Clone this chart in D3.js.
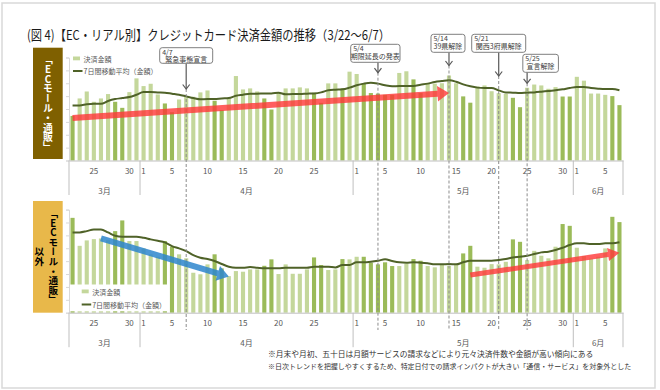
<!DOCTYPE html>
<html><head><meta charset="utf-8">
<script src="https://cdn.jsdelivr.net/npm/d3@7"></script>
<style>
body{margin:0;background:#fff}
svg{display:block}
text{font-family:"Noto Sans CJK JP","Noto Sans",sans-serif}
</style>
</head><body>
<svg id="c" width="660" height="390"></svg>
<script>
// ---------------- DATA ----------------
const title = "(図 4)【EC・リアル別】クレジットカード決済金額の推移（3/22～6/7）";
const categories = d3.timeDay.range(new Date(2020,2,22), new Date(2020,5,8)).map(d => (d.getMonth()+1)+"/"+d.getDate());
const darkDays = ["3/22","3/28","3/29","4/4","4/5","4/11","4/12","4/18","4/19","4/25","4/26","4/29",
  "5/2","5/3","5/4","5/5","5/6","5/9","5/10","5/16","5/17","5/23","5/24","5/30","5/31","6/6","6/7"];
const ecValues = [34.6,48.2,53.6,45.6,48.2,51.6,45.6,40.9,53.1,63.8,57.8,59.6,51.3,44.3,37.5,47.4,49.5,49.5,52.9,54.4,
  46.4,39.1,48.2,65.6,55.2,56,53.6,48.2,39.6,52.6,56,56,56.8,56,52.6,44.8,59.9,59.9,56,
  69,67.2,60,52.4,52,51,51,68,69.3,63,52.4,59.7,59.7,60,66,60,49.8,44.9,57.5,58.3,53.8,52.3,51.8,48.7,41.4,
  56.5,59,58.3,55.7,57,49.7,49.7,65,62,52,52,51,50,43];
const ecMA = [42.8,42.8,43.6,44,44,46.2,47.7,48.5,49.3,51.1,53.2,53.2,52.9,52.7,51.9,51.1,49.8,48.5,47.5,47.7,
  47.7,48.2,48.5,50.3,51.1,51.9,51.9,52.1,52.1,52.7,51.4,51.6,51.6,51.9,52.1,52.9,54.5,55,55.3,
  56.6,58.4,59.7,60.4,59.7,58.4,57.6,57.8,57.8,57.8,58.8,59.7,61,61.7,62.3,61.2,59.1,57.6,56.6,56.3,56.3,
  54.5,52.9,52.7,52.4,52.7,52.9,53.4,54,54.5,55.3,56.3,57.1,57.1,56.3,55.8,55.5,55.5,54.5];
const realValues = [73.6,51.9,56.1,57.1,57.6,56.3,63.3,71.6,55.6,55.6,49.9,45.3,43.4,55.6,51.2,45.3,42.2,31,29.8,37.5,
  45.3,34.4,28.4,32.3,31.8,33.6,33.6,36.4,41.4,30,37.5,30.2,30.2,33.6,42.9,37,33.1,33.6,41.6,
  41.4,43.4,43.4,38.8,37.5,39.1,36.2,36.2,38,41.6,40.3,36.2,35.2,37.5,36.4,37,46,51.9,35.7,34.9,37.7,
  37.5,39.5,56.9,55,40.8,48,44.2,42.2,51.2,68.8,67.4,50.4,44,42,43.4,49.9,74.4,70.3];
const realMA = [62.3,62.3,63.3,64.6,64.6,62.3,59.7,58.9,58.9,58.9,58.1,56.9,55.8,54.6,51.7,49.9,47.8,44.7,42.6,41.6,
  40.1,37.8,35.7,34.9,34.9,35.4,34.9,34.4,34.4,34.4,34.9,34.9,34.9,34.9,35.7,35.7,35.7,35.1,37,
  37,39.1,39.1,39.5,40.3,41.4,40.1,39.1,38.8,39.1,38.8,38.3,37.5,37.5,37.7,37.5,39.1,40.3,40.3,40.3,40.3,
  40.9,41.6,42.9,43.4,44.2,45.5,46.8,47.3,48.6,50.4,52.5,53.8,53.8,53.3,53.3,53.8,53.8,54.6];
const tickDays = ["3/25","3/30","4/1","4/5","4/10","4/15","4/20","4/25","5/1","5/5","5/10","5/15","5/20","5/25","5/30","6/1","6/5"];
const months = [["3月","3/22","3/31"],["4月","4/1","4/30"],["5月","5/1","5/31"],["6月","6/1","6/7"]];
const events = [["4/7","緊急事態宣言"],["5/4","期限延長の発表"],["5/14","39県解除"],["5/21","関西3府県解除"],["5/25","宣言解除"]];
const seriesNames = ["決済金額","7日間移動平均（金額）"];
const panelLabels = ["「ECモール・通販」","「ECモール・通販」","以外"];
const trendArrows = [ // [panel, fromDay, fromValue, toDay, toValue]
  ["ec","3/22",33,"5/14",52.4],
  ["real","3/26",57.7,"4/13",28],
  ["real","5/17",29.2,"6/7",46.5]];
const notes = ["※月末や月初、五十日は月額サービスの請求などにより元々決済件数や金額が高い傾向にある",
  "※日次トレンドを把握しやすくするため、特定日付での請求インパクトが大きい「通信・サービス」を対象外とした"];

// ---------------- LAYOUT ----------------
const svg = d3.select("#c");
const C = {light:"#c4d79b", dark:"#9bbb59", ma:"#4f6228", axis:"#bfbfbf", txt:"#595959"};
const x = d3.scaleBand().domain(categories).range([69,623]).paddingInner(0.42).paddingOuter(0.21);
const xc = d => x(d) + x.bandwidth()/2;
const gap = (x.step()-x.bandwidth())/2;
const yEc = d3.scaleLinear().domain([0,80]).range([160.5,57.5]);
const yRe = d3.scaleLinear().domain([0,80]).range([312.7,209.6]);

function fit(t, w){ const fs=+t.attr("font-size"); const len=t.node().getComputedTextLength(); t.attr("font-size",fs*w/len); return t; }

svg.append("rect").attr("x",2).attr("y",3).attr("width",653).attr("height",385)
  .attr("fill","#fff").attr("stroke","#d9d9d9").attr("stroke-width",1.5);

svg.append("text").attr("x",27).attr("y",40).attr("font-size",13.5).attr("fill","#1a1a1a")
  .attr("textLength",363).attr("lengthAdjust","spacingAndGlyphs").text(title);

function panel(vals, y) {
  const g = svg.append("g");
  const ya = g.append("g").attr("transform","translate(69,0)")
    .call(d3.axisLeft(y).ticks(8).tickSize(3).tickFormat(""));
  ya.selectAll("line,path").attr("stroke","#d9d9d9");
  g.selectAll("rect.b").data(categories).enter().append("rect")
    .attr("x",d=>x(d)).attr("width",x.bandwidth())
    .attr("y",(d,i)=>y(vals[i])).attr("height",(d,i)=>y(0)-y(vals[i]))
    .attr("fill",d=>darkDays.includes(d)?C.dark:C.light);
  const xa = g.append("g").attr("transform",`translate(0,${y(0)})`)
    .call(d3.axisBottom(x).tickValues(tickDays).tickSize(0).tickPadding(8).tickFormat(d=>d.split("/")[1]));
  xa.select("path").attr("stroke",C.axis);
  xa.selectAll("text").attr("font-size",8).attr("fill",C.txt).attr("font-family",'"Noto Sans","Noto Sans CJK JP",sans-serif');
  months.forEach(([lab,a,b],k)=>{
    const x0 = x(a)-gap, x1 = x(b)+x.bandwidth()+gap;
    g.append("line").attr("x1",x0).attr("x2",x0).attr("y1",y(0)).attr("y2",y(0)+34.5).attr("stroke","#bfbfbf");
    if(k===months.length-1) g.append("line").attr("x1",x1).attr("x2",x1).attr("y1",y(0)).attr("y2",y(0)+34.5).attr("stroke","#bfbfbf");
    g.append("text").attr("x",(x0+x1)/2).attr("y",y(0)+33.5).attr("text-anchor","middle")
      .attr("font-size",8).attr("fill",C.txt).text(lab);
  });
  return g;
}
panel(ecValues, yEc);
panel(realValues, yRe);

svg.append("rect").attr("x",70).attr("y",284.5).attr("width",97).attr("height",26.8).attr("fill","#fff");

const lineGen = y => d3.line().x((d,i)=>xc(categories[i])).y(d=>y(d)).curve(d3.curveMonotoneX);
svg.append("path").datum(ecMA).attr("d",lineGen(yEc)).attr("fill","none").attr("stroke",C.ma).attr("stroke-width",2);
svg.append("path").datum(realMA).attr("d",lineGen(yRe)).attr("fill","none").attr("stroke",C.ma).attr("stroke-width",2);

function legend(lx, ly, dy){
  svg.append("rect").attr("x",lx).attr("y",ly-3.5).attr("width",7).attr("height",3.8).attr("fill",C.light);
  svg.append("text").attr("x",lx+10.5).attr("y",ly+1.5).attr("font-size",7).attr("fill",C.txt).text(seriesNames[0]);
  svg.append("line").attr("x1",lx).attr("x2",lx+9.5).attr("y1",ly+dy-1.5).attr("y2",ly+dy-1.5).attr("stroke",C.ma).attr("stroke-width",2);
  svg.append("text").attr("x",lx+10.5).attr("y",ly+dy+1.5).attr("font-size",7).attr("fill",C.txt).text(seriesNames[1]);
}
legend(73,60,12.5);
legend(81.7,293,13);

svg.append("rect").attr("x",33).attr("y",47.7).attr("width",29.7).attr("height",111.3).attr("fill","#7f6000");
svg.append("rect").attr("x",33).attr("y",201).attr("width",29.7).attr("height",111.7).attr("fill","#e8b84a");
function vtext(tx, ty, s, fill, fs){
  svg.append("text").attr("x",tx).attr("y",ty).attr("text-anchor","middle")
    .attr("font-size",fs).attr("font-weight","bold").attr("fill",fill)
    .style("writing-mode","vertical-rl").style("text-orientation","upright").text(s);
}
vtext(48,103.3,panelLabels[0],"#fff",9.8);
vtext(53.3,256.5,panelLabels[1],"#000",9.6);
vtext(39.3,256.5,panelLabels[2],"#000",9.6);

const evLayout = {"4/7":[0,47.7,53,15.6,89],"5/4":[-2.6,44.3,49.3,18,72.7],"5/14":[-1,34.3,34,18,65.5],
  "5/21":[0,34.3,54,18,76],"5/25":[13.5,54.3,35.6,18,83.3]};
events.forEach(([d,lab])=>{
  const cx = xc(d), [dx,top,w,h,tip] = evLayout[d];
  svg.append("line").attr("x1",cx).attr("x2",cx).attr("y1",tip).attr("y2",330)
    .attr("stroke","#8c8c8c").attr("stroke-width",1).attr("stroke-dasharray","3,2");
  svg.append("line").attr("x1",cx).attr("x2",cx).attr("y1",top+h).attr("y2",tip)
    .attr("stroke","#595959").attr("stroke-width",1.2);
  svg.append("path").attr("d",`M${cx-3.5},${tip-4.5}L${cx},${tip}L${cx+3.5},${tip-4.5}`)
    .attr("fill","none").attr("stroke","#595959").attr("stroke-width",1.2);
  const bx = cx+dx-w/2;
  svg.append("rect").attr("x",bx).attr("y",top).attr("width",w).attr("height",h).attr("rx",2.5)
    .attr("fill","#fff").attr("stroke","#7f7f7f").attr("stroke-width",1);
  svg.append("text").attr("x",bx+2.5).attr("y",top+7).attr("font-size",7).attr("fill","#404040").text(d);
  svg.append("text").attr("x",bx+w/2).attr("y",top+(h>17?15:14)).attr("text-anchor","middle")
    .attr("font-size",7).attr("fill","#404040").text(lab);
});

function arrow(x1,y1,x2,y2,sw,hl,hw,color){
  const a = Math.atan2(y2-y1,x2-x1), ux=Math.cos(a), uy=Math.sin(a), px=-uy, py=ux;
  const bx=x2-ux*hl, by=y2-uy*hl;
  const pts=[[x1+px*sw/2,y1+py*sw/2],[bx+px*sw/2,by+py*sw/2],[bx+px*hw/2,by+py*hw/2],[x2,y2],
    [bx-px*hw/2,by-py*hw/2],[bx-px*sw/2,by-py*sw/2],[x1-px*sw/2,y1-py*sw/2]];
  svg.append("polygon").attr("points",pts.map(p=>p.join(",")).join(" ")).attr("fill",color);
}
trendArrows.forEach(([p,d1,v1,d2,v2],k)=>{
  const y = p==="ec"?yEc:yRe;
  const col = k===1?"rgba(46,134,205,0.85)":"rgba(255,55,55,0.8)";
  arrow(xc(d1),y(v1),xc(d2),y(v2),k===2?5:6,11.5,k===2?13:15.5,col);
});

const noteW = [325, 363];
notes.forEach((t,i)=>fit(svg.append("text").attr("x",268).attr("y",357+i*12).attr("font-size",7.7).attr("fill","#333").text(t), noteW[i]));
</script>
</body></html>
